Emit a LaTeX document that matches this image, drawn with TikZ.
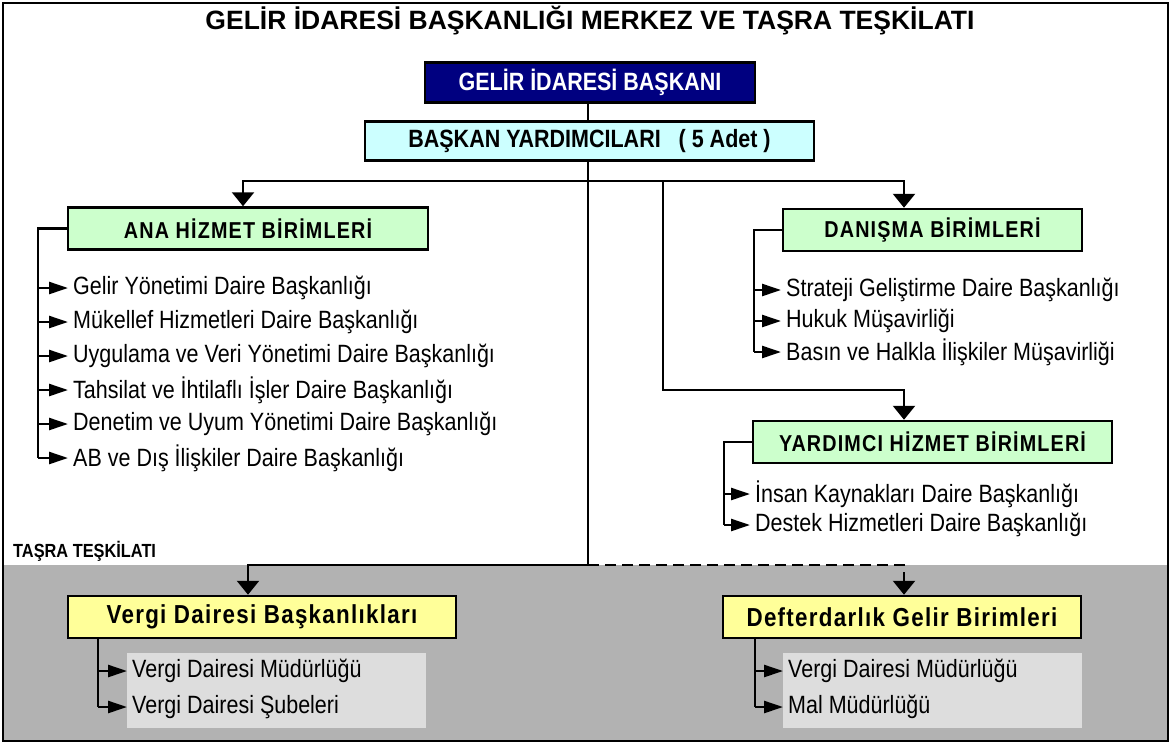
\documentclass[tikz,border=0pt]{standalone}
\usepackage{fontspec}
\setmainfont{Liberation Sans}
\newfontfamily\narrowfont[FakeStretch=0.86]{Liberation Sans}
\newfontfamily\spacedfont[FakeStretch=0.86,LetterSpace=5]{Liberation Sans}
\usetikzlibrary{positioning,arrows.meta}

\definecolor{chiefblue}{HTML}{000080}
\definecolor{deputycyan}{HTML}{CCFFFF}
\definecolor{unitgreen}{HTML}{CCFFCC}
\definecolor{provyellow}{HTML}{FFFF99}
\definecolor{provgrey}{HTML}{B2B2B2}
\definecolor{listgrey}{HTML}{DDDDDD}

\tikzset{
  headbox/.style={draw, line width=2.5pt, inner sep=0pt, font=\narrowfont\bfseries\fontsize{25}{28}\selectfont},
  chiefbox/.style={headbox, fill=chiefblue, text=white, minimum width=330pt, minimum height=40pt},
  deputybox/.style={headbox, fill=deputycyan, minimum width=449pt, minimum height=39pt},
  unitbox/.style={draw, line width=2.5pt, inner sep=0pt, fill=unitgreen, minimum height=42pt, font=\spacedfont\bfseries\fontsize{23}{26}\selectfont},
  provbox/.style={draw, line width=2.5pt, inner sep=0pt, fill=provyellow, minimum height=42pt, font=\spacedfont\bfseries\fontsize{26}{29}\selectfont},
  listpanel/.style={fill=listgrey, inner sep=0pt, minimum width=299pt, minimum height=75pt},
  item/.style={anchor=west, inner xsep=5pt, inner ysep=0pt, font=\narrowfont\fontsize{25}{28}\selectfont},
  wire/.style={line width=2.5pt},
  feed/.style={wire, -{Triangle[length=14pt,width=22pt]}},
  tick/.style={wire, -{Triangle[length=19pt,width=12pt]}}
}

\begin{document}
\begin{tikzpicture}[x=1pt, y=-1pt]
    \useasboundingbox (0,0) rectangle (1172,745);
    \fill[provgrey] (4,565) rectangle (1167,740);
    \draw[line width=2pt] (3,3) rectangle (1168,741);

    \node[font=\bfseries\fontsize{26.5}{30}\selectfont] (title) at (590,21) {GELİR İDARESİ BAŞKANLIĞI MERKEZ VE TAŞRA TEŞKİLATI};
    \node[chiefbox] (chief) at (590,82.5) {GELİR İDARESİ BAŞKANI};
    \node[deputybox] (deputies) at (589.5,141) {BAŞKAN YARDIMCILARI \ \ ( 5 Adet )};

    \node[unitbox, minimum width=360pt] (ahb) at (248,228.5) {ANA HİZMET BİRİMLERİ};
    \node[unitbox, minimum width=299pt] (dan) at (932.5,230) {DANIŞMA BİRİMLERİ};
    \node[unitbox, minimum width=359pt] (ydb) at (932.5,442) {YARDIMCI HİZMET BİRİMLERİ};

    \node[anchor=west, inner sep=0pt, font=\narrowfont\bfseries\fontsize{19}{22}\selectfont] (tasra) at (13,551) {TAŞRA TEŞKİLATI};
    \node[provbox, minimum width=388pt] (vdb) at (262,617) {Vergi Dairesi Başkanlıkları};
    \node[provbox, minimum width=358pt] (dgb) at (902,617) {Defterdarlık Gelir Birimleri};
    \node[listpanel] (vpanel) at (276.5,690.5) {};
    \node[listpanel] (dpanel) at (932.5,690.5) {};

    \node[item] (a1) at (68,288) {Gelir Yönetimi Daire Başkanlığı};
    \node[item] (a2) at (68,322) {Mükellef Hizmetleri Daire Başkanlığı};
    \node[item] (a3) at (68,356) {Uygulama ve Veri Yönetimi Daire Başkanlığı};
    \node[item] (a4) at (68,390) {Tahsilat ve İhtilaflı İşler Daire Başkanlığı};
    \node[item] (a5) at (68,424) {Denetim ve Uyum Yönetimi Daire Başkanlığı};
    \node[item] (a6) at (68,458) {AB ve Dış İlişkiler Daire Başkanlığı};

    \node[item] (d1) at (781,290) {Strateji Geliştirme Daire Başkanlığı};
    \node[item] (d2) at (781,321) {Hukuk Müşavirliği};
    \node[item] (d3) at (781,352) {Basın ve Halkla İlişkiler Müşavirliği};

    \node[item] (y1) at (750,494) {İnsan Kaynakları Daire Başkanlığı};
    \node[item] (y2) at (750,525) {Destek Hizmetleri Daire Başkanlığı};

    \node[item] (v1) at (127,671) {Vergi Dairesi Müdürlüğü};
    \node[item] (v2) at (127,707) {Vergi Dairesi Şubeleri};
    \node[item] (m1) at (783,671) {Vergi Dairesi Müdürlüğü};
    \node[item] (m2) at (783,707) {Mal Müdürlüğü};

    \coordinate (bus) at (588,181);
    \coordinate (tap) at (663,181);
    \coordinate (hub) at (588,565);
    \coordinate (rcol) at (904,0);
    \coordinate (abr) at (38,0);
    \coordinate (dbr) at (754,0);
    \coordinate (ybr) at (724,0);
    \coordinate (vbr) at (98,0);
    \coordinate (mbr) at (755,0);

    \draw[wire] (bus |- deputies.north) -- (bus |- chief.south);
    \draw[wire] (bus |- deputies.south) -- (hub);
    \draw[feed] (bus) -| ([xshift=-5pt]ahb.north);
    \draw[feed] (bus) -| (rcol |- dan.north);
    \draw[feed] (tap) -- ++(0,209) -| (rcol |- ydb.north);
    \draw[feed] (hub) -| ([xshift=-14pt]vdb.north);
    \draw[feed, dash pattern=on 11pt off 6pt] (hub) -| (rcol |- dgb.north);

    \draw[wire] (ahb.west) -| (abr |- a6.west);
    \draw[wire] (dan.west) -| (dbr |- d3.west);
    \draw[wire] (ydb.west) -| (ybr |- y2.west);
    \draw[wire] (vbr |- vdb.south) -- (vbr |- v2.west);
    \draw[wire] (mbr |- dgb.south) -- (mbr |- m2.west);
    \foreach \n in {a1,a2,a3,a4,a5,a6}
        \draw[tick] (abr |- \n.west) -- (\n.west);
    \foreach \n in {d1,d2,d3}
        \draw[tick] (dbr |- \n.west) -- (\n.west);
    \foreach \n in {y1,y2}
        \draw[tick] (ybr |- \n.west) -- (\n.west);
    \foreach \n in {v1,v2}
        \draw[tick] (vbr |- \n.west) -- (\n.west);
    \foreach \n in {m1,m2}
        \draw[tick] (mbr |- \n.west) -- (\n.west);
\end{tikzpicture}
\end{document}
